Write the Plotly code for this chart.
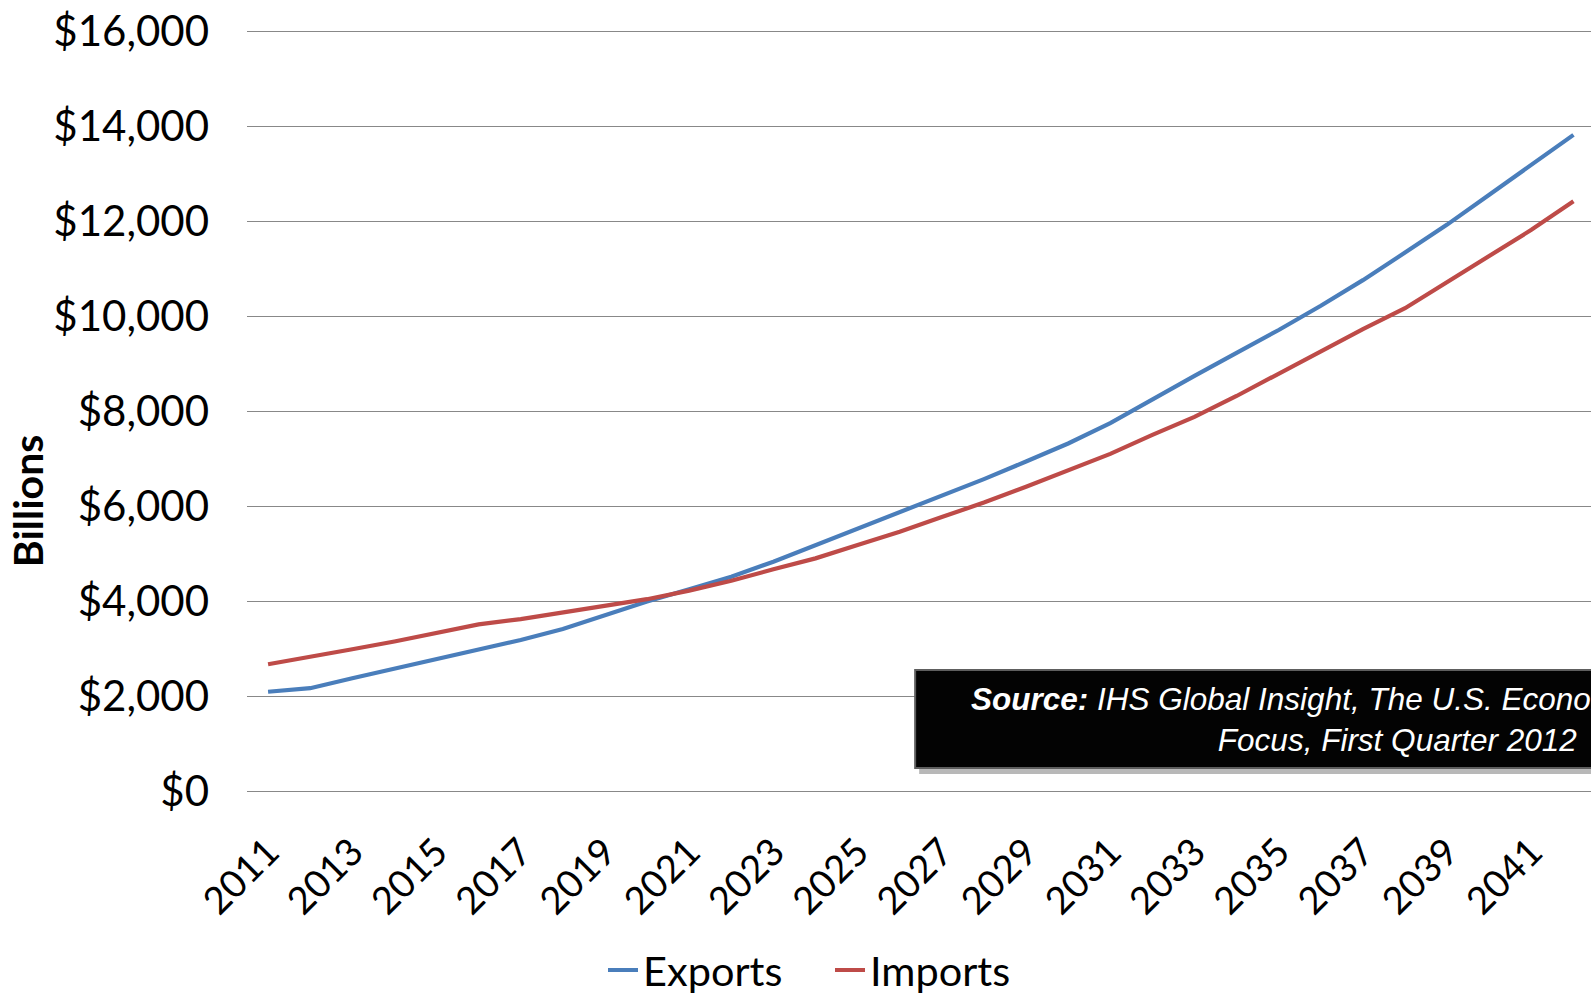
import plotly.graph_objects as go

# U.S. exports and imports, billions of dollars
years = [2011, 2012, 2013, 2014, 2015, 2016, 2017, 2018, 2019, 2020, 2021,
         2022, 2023, 2024, 2025, 2026, 2027, 2028, 2029, 2030, 2031, 2032,
         2033, 2034, 2035, 2036, 2037, 2038, 2039, 2040, 2041, 2042]
exports = [2090, 2165, 2375, 2575, 2775, 2990, 3180, 3410, 3700, 3990, 4250,
           4515, 4830, 5180, 5535, 5885, 6215, 6570, 6940, 7320, 7750, 8260,
           8745, 9230, 9710, 10220, 10760, 11340, 11930, 12560, 13190, 13820]
imports = [2670, 2820, 2985, 3150, 3320, 3510, 3620, 3760, 3900, 4040, 4220,
           4430, 4670, 4900, 5180, 5460, 5770, 6075, 6410, 6750, 7100, 7500,
           7880, 8320, 8790, 9260, 9730, 10170, 10720, 11270, 11820, 12420]
year_ticks = [2011, 2013, 2015, 2017, 2019, 2021, 2023, 2025, 2027, 2029,
              2031, 2033, 2035, 2037, 2039, 2041]
value_ticks = [0, 2000, 4000, 6000, 8000, 10000, 12000, 14000, 16000]
value_labels = ["$0", "$2,000", "$4,000", "$6,000", "$8,000", "$10,000",
                "$12,000", "$14,000", "$16,000"]

W, H = 1591, 995
y_max = 16050             # a little headroom so the top gridline is drawn
px_per_unit = 759.3 / 16000
L, B = 246.7, 204
T = 31.7 - (y_max - 16000) * px_per_unit
plot_w = W - L
plot_h = H - T - B
cat_px = 42.12  # pixel width of one year

FONT = "Lato, Calibri, sans-serif"

fig = go.Figure()
fig.add_trace(go.Scatter(x=years, y=exports, name="Exports", mode="lines",
                         line=dict(color="#4A7EBB", width=4.2)))
fig.add_trace(go.Scatter(x=years, y=imports, name="Imports", mode="lines",
                         line=dict(color="#BE4B48", width=4.2)))

def px_x(p):
    return (p - L) / plot_w

def px_y(p):
    return (H - B - p) / plot_h

# source note box with drop shadow
box_l, box_t, box_b, box_r = 915, 670, 768, 1900
fig.add_shape(type="rect", xref="paper", yref="paper",
              x0=px_x(box_l + 4), x1=px_x(box_r + 4),
              y0=px_y(box_b + 6), y1=px_y(box_t + 6),
              fillcolor="rgba(0,0,0,0.28)", line=dict(width=0), layer="above")
fig.add_shape(type="rect", xref="paper", yref="paper",
              x0=px_x(box_l), x1=px_x(box_r), y0=px_y(box_b), y1=px_y(box_t),
              fillcolor="#030303", line=dict(color="#5e5e5e", width=2),
              layer="above")
fig.add_annotation(
    xref="paper", yref="paper", x=px_x(1398), y=px_y(720),
    xanchor="center", yanchor="middle", showarrow=False, align="center",
    text="<b><i>Source:</i></b><i> IHS Global Insight, The U.S. Economy: The 30-Year</i>"
         "<br><i>Focus, First Quarter 2012</i>",
    font=dict(family="Liberation Sans, Arial, sans-serif", size=31.5, color="white"),
)

# rotated axis title
fig.add_annotation(
    xref="paper", yref="paper", x=px_x(28), y=px_y(501),
    xanchor="center", yanchor="middle", showarrow=False, textangle=-90,
    text="<b>Billions</b>", font=dict(family=FONT, size=41, color="black"),
)

fig.update_layout(
    width=W, height=H,
    margin=dict(l=L, r=0, t=T, b=B, pad=0, autoexpand=False),
    paper_bgcolor="white", plot_bgcolor="white",
    showlegend=True,
    legend=dict(orientation="h", xref="container", yref="container",
                x=603 / W, y=1 - 970 / H, xanchor="left", yanchor="middle",
                font=dict(family=FONT, size=41.5, color="black"),
                bgcolor="rgba(0,0,0,0)", entrywidth=182, itemwidth=30),
    xaxis=dict(range=[2010.5, 2010.5 + plot_w / cat_px], tickmode="array",
               tickvals=year_ticks, ticktext=[str(y) for y in year_ticks],
               tickangle=-45, showgrid=False, zeroline=False, showline=False,
               ticks="", ticklabelstandoff=30,
               tickfont=dict(family=FONT, size=38, color="black")),
    yaxis=dict(range=[0, y_max], tickmode="array", tickvals=value_ticks,
               ticktext=value_labels, showgrid=True,
               gridcolor="#888888", gridwidth=1.4, zeroline=True,
               zerolinecolor="#888888", zerolinewidth=1.4, showline=False,
               ticks="", ticklabelstandoff=37,
               tickfont=dict(family=FONT, size=42, color="black")),
)

fig.write_html("out.html",
               post_script="document.body.style.margin='0';document.body.style.overflow='hidden';")
